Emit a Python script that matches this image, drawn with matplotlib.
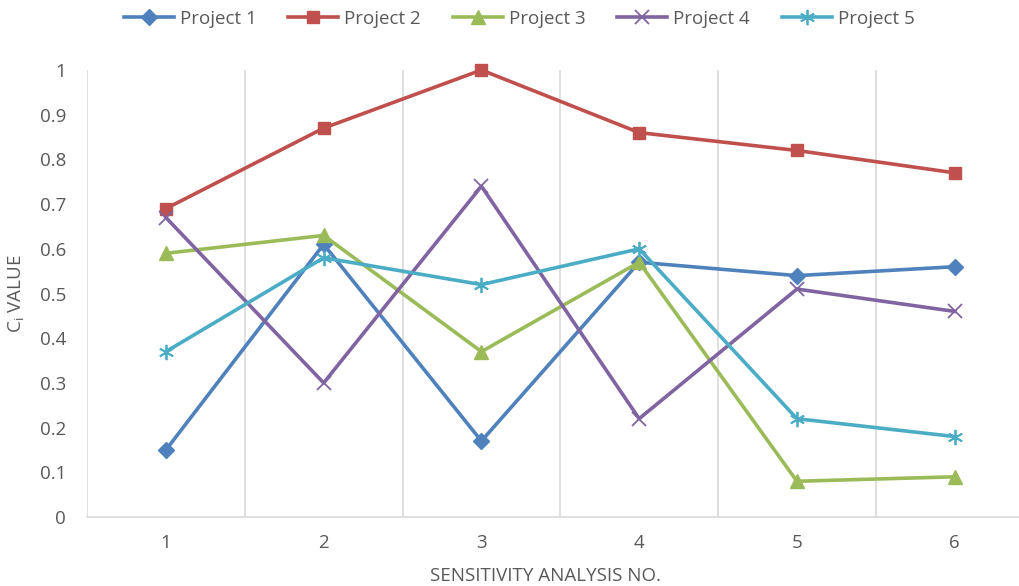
import matplotlib.pyplot as plt
import numpy as np

runs = [1, 2, 3, 4, 5, 6]
project1 = [0.15, 0.61, 0.17, 0.57, 0.54, 0.56]
project2 = [0.69, 0.87, 1.00, 0.86, 0.82, 0.77]
project3 = [0.59, 0.63, 0.37, 0.57, 0.08, 0.09]
project4 = [0.67, 0.30, 0.74, 0.22, 0.51, 0.46]
project5 = [0.37, 0.58, 0.52, 0.60, 0.22, 0.18]
ytick_labels = ['0', '0.1', '0.2', '0.3', '0.4', '0.5', '0.6', '0.7', '0.8', '0.9', '1']

plt.rcParams['font.family'] = ['Open Sans', 'DejaVu Sans']
grey_txt = '#595959'
grid_col = '#d9d9d9'
fs = 13.5

fig = plt.figure(figsize=(10.2, 5.86), dpi=100)
ax = fig.add_axes([0.0853, 0.1177, 0.928, 0.7628])

series = [
    (project1, 'Project 1', '#4F81BD', 'D', 8),
    (project2, 'Project 2', '#C0504D', 's', 9),
    (project3, 'Project 3', '#9BBB59', '^', 10),
    (project4, 'Project 4', '#8064A2', 'x', 10),
    (project5, 'Project 5', '#4BACC6', (6, 2, 0), 11),
]
for vals, name, col, mk, ms in series:
    thin = mk == 'x' or isinstance(mk, tuple)
    ax.plot(runs, vals, color=col, lw=2.6, marker=mk, markersize=ms,
            markeredgewidth=1.3 if thin else 1,
            markeredgecolor=col, label=name, clip_on=False, zorder=3)

ax.set_xlim(0.5, 6.5)
ax.set_ylim(0, 1)
ax.set_xticks(runs)
ax.set_yticks(np.linspace(0, 1, 11))
ax.set_yticklabels(ytick_labels)
for xv in [0.5, 1.5, 2.5, 3.5, 4.5, 5.5]:
    ax.axvline(xv, color=grid_col, lw=1.2, zorder=1)

for s in ['top', 'right', 'left']:
    ax.spines[s].set_visible(False)
ax.spines['bottom'].set_color(grid_col)
ax.spines['bottom'].set_linewidth(1.2)
ax.tick_params(length=0, labelsize=fs, colors=grey_txt, pad=12)
ax.tick_params(axis='y', pad=15)

ax.set_xlabel('SENSITIVITY ANALYSIS NO.', fontsize=fs, color=grey_txt)
ax.xaxis.set_label_coords(0.484, -0.112)
ax.set_ylabel('C$_\\mathregular{i}$ VALUE', fontsize=fs, color=grey_txt)
ax.yaxis.set_label_coords(-0.063, 0.5)

leg = fig.legend(loc='center', bbox_to_anchor=(0.509, 0.968), ncol=5, frameon=False,
                 fontsize=fs, handlelength=2.67, columnspacing=1.7, handletextpad=0.32,
                 labelcolor=grey_txt)

fig.savefig('out.png', dpi=100)
